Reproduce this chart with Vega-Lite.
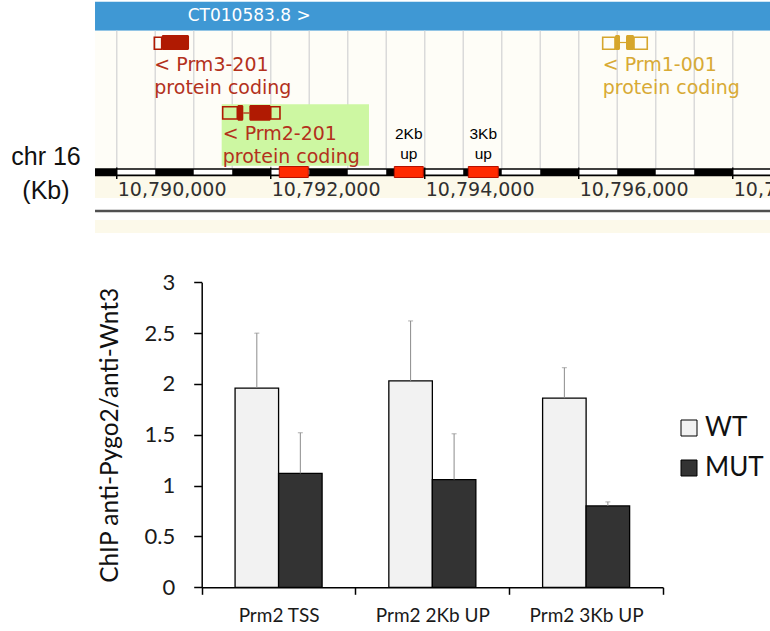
{
  "$schema": "https://vega.github.io/schema/vega-lite/v6.json",
  "width": 770,
  "height": 631,
  "autosize": {"type": "none"},
  "padding": 0,
  "background": "white",
  "config": {"view": {"stroke": null}},
  "datasets": {
    "panels": [
      {"part": "contig", "start": 10789718, "end": 10798484, "top": 0.17, "bottom": 3.07},
      {"part": "track", "start": 10789718, "end": 10798484, "top": 3.07, "bottom": 16.9},
      {"part": "label band", "start": 10789718, "end": 10798484, "top": 17.6, "bottom": 19.8},
      {"part": "lower band", "start": 10789718, "end": 10798484, "top": 22.0, "bottom": 23.3}
    ],
    "grid": [
      {"pos": 10790000}, {"pos": 10790500}, {"pos": 10791000}, {"pos": 10791500},
      {"pos": 10792000}, {"pos": 10792500}, {"pos": 10793000}, {"pos": 10793500},
      {"pos": 10794000}, {"pos": 10794500}, {"pos": 10795000}, {"pos": 10795500},
      {"pos": 10796000}, {"pos": 10796500}, {"pos": 10797000}, {"pos": 10797500},
      {"pos": 10798000}
    ],
    "highlight": [
      {"start": 10791363, "end": 10793276, "top": 10.43, "bottom": 16.57}
    ],
    "ruler": [
      {"start": 10789718, "end": 10798484, "top": 16.83, "bottom": 17.62}
    ],
    "rulerWhite": [
      {"start": 10790000, "end": 10790500}, {"start": 10791000, "end": 10791500},
      {"start": 10792000, "end": 10792500}, {"start": 10793000, "end": 10793500},
      {"start": 10794000, "end": 10794500}, {"start": 10795000, "end": 10795500},
      {"start": 10796000, "end": 10796500}, {"start": 10797000, "end": 10797500},
      {"start": 10798000, "end": 10798484}
    ],
    "major": [
      {"pos": 10790000, "label": "10,790,000"},
      {"pos": 10792000, "label": "10,792,000"},
      {"pos": 10794000, "label": "10,794,000"},
      {"pos": 10796000, "label": "10,796,000"},
      {"pos": 10798000, "label": "10,798,000"}
    ],
    "primers": [
      {"name": "TSS", "start": 10792111, "end": 10792488},
      {"name": "2Kb up", "start": 10793605, "end": 10793981},
      {"name": "3Kb up", "start": 10794566, "end": 10794955}
    ],
    "primerLabels": [
      {"pos": 10793793, "row": 13.4, "label": "2Kb"},
      {"pos": 10793793, "row": 15.35, "label": "up"},
      {"pos": 10794760, "row": 13.4, "label": "3Kb"},
      {"pos": 10794760, "row": 15.35, "label": "up"}
    ],
    "exons": [
      {"gene": "Prm3-201", "kind": "utr", "start": 10790488, "end": 10790584, "top": 3.72, "bottom": 4.93},
      {"gene": "Prm3-201", "kind": "cds", "start": 10790584, "end": 10790939, "top": 3.5, "bottom": 5.0},
      {"gene": "Prm2-201", "kind": "utr", "start": 10791376, "end": 10791566, "top": 10.67, "bottom": 11.9},
      {"gene": "Prm2-201", "kind": "cds", "start": 10791566, "end": 10791644, "top": 10.5, "bottom": 12.07},
      {"gene": "Prm2-201", "kind": "cds", "start": 10791722, "end": 10792000, "top": 10.5, "bottom": 12.07},
      {"gene": "Prm2-201", "kind": "utr", "start": 10792000, "end": 10792120, "top": 10.67, "bottom": 11.9},
      {"gene": "Prm1-001", "kind": "utr", "start": 10796311, "end": 10796471, "top": 3.72, "bottom": 4.93},
      {"gene": "Prm1-001", "kind": "cds", "start": 10796471, "end": 10796536, "top": 3.5, "bottom": 5.0},
      {"gene": "Prm1-001", "kind": "cds", "start": 10796614, "end": 10796718, "top": 3.5, "bottom": 5.0},
      {"gene": "Prm1-001", "kind": "utr", "start": 10796718, "end": 10796890, "top": 3.72, "bottom": 4.93}
    ],
    "introns": [
      {"gene": "Prm2-201", "start": 10791644, "end": 10791722, "row": 11.3},
      {"gene": "Prm1-001", "start": 10796536, "end": 10796614, "row": 4.25}
    ],
    "geneLabels": [
      {"gene": "Prm3-201", "pos": 10790488, "row": 6.5, "label": "< Prm3-201"},
      {"gene": "Prm3-201", "pos": 10790488, "row": 8.75, "label": "protein coding"},
      {"gene": "Prm2-201", "pos": 10791376, "row": 13.35, "label": "< Prm2-201"},
      {"gene": "Prm2-201", "pos": 10791376, "row": 15.65, "label": "protein coding"},
      {"gene": "Prm1-001", "pos": 10796311, "row": 6.5, "label": "< Prm1-001"},
      {"gene": "Prm1-001", "pos": 10796311, "row": 8.75, "label": "protein coding"}
    ],
    "contigLabel": [
      {"pos": 10790922, "row": 1.6, "label": "CT010583.8 >"}
    ],
    "sideLabels": [
      {"pos": 10789081, "row": 15.7, "label": "chr 16"},
      {"pos": 10789081, "row": 19.05, "label": "(Kb)"}
    ],
    "baseline": [
      {"start": 10789718, "end": 10798484, "row": 21.1}
    ],
    "chip": [
      {"site": "Prm2 TSS", "genotype": "WT", "value": 1.96, "upper": 2.5},
      {"site": "Prm2 TSS", "genotype": "MUT", "value": 1.12, "upper": 1.52},
      {"site": "Prm2 2Kb UP", "genotype": "WT", "value": 2.03, "upper": 2.62},
      {"site": "Prm2 2Kb UP", "genotype": "MUT", "value": 1.06, "upper": 1.51},
      {"site": "Prm2 3Kb UP", "genotype": "WT", "value": 1.86, "upper": 2.16},
      {"site": "Prm2 3Kb UP", "genotype": "MUT", "value": 0.8, "upper": 0.84}
    ]
  },
  "layer": [
    {
      "resolve": {"scale": {"color": "independent", "stroke": "independent"}},
      "layer": [
        {
          "data": {"name": "panels"},
          "mark": {"type": "rect"},
          "encoding": {
            "x": {"field": "start", "type": "quantitative", "scale": {"domain": [10788484, 10798484], "nice": false, "zero": false}, "axis": null},
            "x2": {"field": "end"},
            "y": {"field": "top", "type": "quantitative", "scale": {"domain": [0, 23.2], "range": [0, 232], "nice": false, "zero": false}, "axis": null},
            "y2": {"field": "bottom"},
            "color": {"field": "part", "type": "nominal", "legend": null,
              "scale": {"domain": ["contig", "track", "label band", "lower band"], "range": ["#3f98d4", "#fefdf7", "#fcf9ea", "#fcf9ea"]}}
          }
        },
        {
          "data": {"name": "grid"},
          "mark": {"type": "rule", "color": "#dadada", "strokeWidth": 1.5},
          "encoding": {
            "x": {"field": "pos", "type": "quantitative", "scale": {"domain": [10788484, 10798484], "nice": false, "zero": false}, "axis": null},
            "y": {"datum": 3.07, "type": "quantitative", "scale": {"domain": [0, 23.2], "range": [0, 232], "nice": false, "zero": false}, "axis": null},
            "y2": {"datum": 16.85}
          }
        },
        {
          "data": {"name": "highlight"},
          "mark": {"type": "rect", "color": "#cdf7a2"},
          "encoding": {
            "x": {"field": "start", "type": "quantitative", "scale": {"domain": [10788484, 10798484], "nice": false, "zero": false}, "axis": null},
            "x2": {"field": "end"},
            "y": {"field": "top", "type": "quantitative", "scale": {"domain": [0, 23.2], "range": [0, 232], "nice": false, "zero": false}, "axis": null},
            "y2": {"field": "bottom"}
          }
        },
        {
          "data": {"name": "ruler"},
          "mark": {"type": "rect", "color": "#000000"},
          "encoding": {
            "x": {"field": "start", "type": "quantitative", "scale": {"domain": [10788484, 10798484], "nice": false, "zero": false}, "axis": null},
            "x2": {"field": "end"},
            "y": {"field": "top", "type": "quantitative", "scale": {"domain": [0, 23.2], "range": [0, 232], "nice": false, "zero": false}, "axis": null},
            "y2": {"field": "bottom"}
          }
        },
        {
          "data": {"name": "rulerWhite"},
          "mark": {"type": "rect", "color": "#ffffff"},
          "encoding": {
            "x": {"field": "start", "type": "quantitative", "scale": {"domain": [10788484, 10798484], "nice": false, "zero": false}, "axis": null},
            "x2": {"field": "end"},
            "y": {"datum": 16.98, "type": "quantitative", "scale": {"domain": [0, 23.2], "range": [0, 232], "nice": false, "zero": false}, "axis": null},
            "y2": {"datum": 17.45}
          }
        },
        {
          "data": {"name": "major"},
          "mark": {"type": "rule", "color": "#000000", "strokeWidth": 1.5},
          "encoding": {
            "x": {"field": "pos", "type": "quantitative", "scale": {"domain": [10788484, 10798484], "nice": false, "zero": false}, "axis": null},
            "y": {"datum": 16.75, "type": "quantitative", "scale": {"domain": [0, 23.2], "range": [0, 232], "nice": false, "zero": false}, "axis": null},
            "y2": {"datum": 17.9}
          }
        },
        {
          "data": {"name": "major"},
          "mark": {"type": "text", "align": "left", "baseline": "middle", "dx": 1, "font": "DejaVu Sans", "fontSize": 19, "color": "#303030"},
          "encoding": {
            "x": {"field": "pos", "type": "quantitative", "scale": {"domain": [10788484, 10798484], "nice": false, "zero": false}, "axis": null},
            "y": {"datum": 19.0, "type": "quantitative", "scale": {"domain": [0, 23.2], "range": [0, 232], "nice": false, "zero": false}, "axis": null},
            "text": {"field": "label"}
          }
        },
        {
          "data": {"name": "primers"},
          "mark": {"type": "rect", "fill": "#ff2a00", "stroke": "#b51000", "strokeWidth": 1},
          "encoding": {
            "x": {"field": "start", "type": "quantitative", "scale": {"domain": [10788484, 10798484], "nice": false, "zero": false}, "axis": null},
            "x2": {"field": "end"},
            "y": {"datum": 16.65, "type": "quantitative", "scale": {"domain": [0, 23.2], "range": [0, 232], "nice": false, "zero": false}, "axis": null},
            "y2": {"datum": 17.75}
          }
        },
        {
          "data": {"name": "primerLabels"},
          "mark": {"type": "text", "align": "center", "baseline": "middle", "font": "Liberation Sans", "fontSize": 15.5, "color": "#000000"},
          "encoding": {
            "x": {"field": "pos", "type": "quantitative", "scale": {"domain": [10788484, 10798484], "nice": false, "zero": false}, "axis": null},
            "y": {"field": "row", "type": "quantitative", "scale": {"domain": [0, 23.2], "range": [0, 232], "nice": false, "zero": false}, "axis": null},
            "text": {"field": "label"}
          }
        },
        {
          "data": {"name": "introns"},
          "mark": {"type": "rule", "strokeWidth": 1.2},
          "encoding": {
            "x": {"field": "start", "type": "quantitative", "scale": {"domain": [10788484, 10798484], "nice": false, "zero": false}, "axis": null},
            "x2": {"field": "end"},
            "y": {"field": "row", "type": "quantitative", "scale": {"domain": [0, 23.2], "range": [0, 232], "nice": false, "zero": false}, "axis": null},
            "color": {"field": "gene", "type": "nominal", "legend": null,
              "scale": {"domain": ["Prm3-201", "Prm2-201", "Prm1-001"], "range": ["#b01a02", "#b01a02", "#d6a62c"]}}
          }
        },
        {
          "data": {"name": "exons"},
          "transform": [{"filter": "datum.kind === 'utr'"}],
          "mark": {"type": "rect", "fillOpacity": 0, "strokeWidth": 1.6},
          "encoding": {
            "x": {"field": "start", "type": "quantitative", "scale": {"domain": [10788484, 10798484], "nice": false, "zero": false}, "axis": null},
            "x2": {"field": "end"},
            "y": {"field": "top", "type": "quantitative", "scale": {"domain": [0, 23.2], "range": [0, 232], "nice": false, "zero": false}, "axis": null},
            "y2": {"field": "bottom"},
            "stroke": {"field": "gene", "type": "nominal", "legend": null,
              "scale": {"domain": ["Prm3-201", "Prm2-201", "Prm1-001"], "range": ["#b01a02", "#b01a02", "#d6a62c"]}}
          }
        },
        {
          "data": {"name": "exons"},
          "transform": [{"filter": "datum.kind === 'cds'"}],
          "mark": {"type": "rect", "cornerRadius": 1.5},
          "encoding": {
            "x": {"field": "start", "type": "quantitative", "scale": {"domain": [10788484, 10798484], "nice": false, "zero": false}, "axis": null},
            "x2": {"field": "end"},
            "y": {"field": "top", "type": "quantitative", "scale": {"domain": [0, 23.2], "range": [0, 232], "nice": false, "zero": false}, "axis": null},
            "y2": {"field": "bottom"},
            "color": {"field": "gene", "type": "nominal", "legend": null,
              "scale": {"domain": ["Prm3-201", "Prm2-201", "Prm1-001"], "range": ["#b01a02", "#b01a02", "#d6a62c"]}}
          }
        },
        {
          "data": {"name": "geneLabels"},
          "mark": {"type": "text", "align": "left", "baseline": "middle", "font": "DejaVu Sans", "fontSize": 19},
          "encoding": {
            "x": {"field": "pos", "type": "quantitative", "scale": {"domain": [10788484, 10798484], "nice": false, "zero": false}, "axis": null},
            "y": {"field": "row", "type": "quantitative", "scale": {"domain": [0, 23.2], "range": [0, 232], "nice": false, "zero": false}, "axis": null},
            "text": {"field": "label"},
            "color": {"field": "gene", "type": "nominal", "legend": null,
              "scale": {"domain": ["Prm3-201", "Prm2-201", "Prm1-001"], "range": ["#b3311c", "#b3311c", "#d8aa35"]}}
          }
        },
        {
          "data": {"name": "contigLabel"},
          "mark": {"type": "text", "align": "left", "baseline": "middle", "font": "DejaVu Sans", "fontSize": 17, "color": "#ffffff"},
          "encoding": {
            "x": {"field": "pos", "type": "quantitative", "scale": {"domain": [10788484, 10798484], "nice": false, "zero": false}, "axis": null},
            "y": {"field": "row", "type": "quantitative", "scale": {"domain": [0, 23.2], "range": [0, 232], "nice": false, "zero": false}, "axis": null},
            "text": {"field": "label"}
          }
        },
        {
          "data": {"name": "sideLabels"},
          "mark": {"type": "text", "align": "center", "baseline": "middle", "font": "Liberation Sans", "fontSize": 25, "color": "#111111"},
          "encoding": {
            "x": {"field": "pos", "type": "quantitative", "scale": {"domain": [10788484, 10798484], "nice": false, "zero": false}, "axis": null},
            "y": {"field": "row", "type": "quantitative", "scale": {"domain": [0, 23.2], "range": [0, 232], "nice": false, "zero": false}, "axis": null},
            "text": {"field": "label"}
          }
        },
        {
          "data": {"name": "baseline"},
          "mark": {"type": "rule", "color": "#505050", "strokeWidth": 2.5},
          "encoding": {
            "x": {"field": "start", "type": "quantitative", "scale": {"domain": [10788484, 10798484], "nice": false, "zero": false}, "axis": null},
            "x2": {"field": "end"},
            "y": {"field": "row", "type": "quantitative", "scale": {"domain": [0, 23.2], "range": [0, 232], "nice": false, "zero": false}, "axis": null}
          }
        }
      ]
    },
    {
      "data": {"name": "chip"},
      "layer": [
        {
          "mark": {"type": "bar", "stroke": "#000000", "strokeWidth": 1.3},
          "encoding": {
            "x": {"field": "site", "type": "nominal", "sort": ["Prm2 TSS", "Prm2 2Kb UP", "Prm2 3Kb UP"],
              "scale": {"range": [201.7, 663], "paddingInner": 0, "paddingOuter": 0},
              "axis": {"orient": "bottom", "offset": -43.7, "title": null, "tickBand": "extent", "tickSize": 7, "tickWidth": 1.5, "tickColor": "#000000",
                "domainColor": "#000000", "domainWidth": 1.5, "labelAngle": 0, "labelFont": "Lato", "labelFontSize": 19, "labelColor": "#1a1a1a", "labelPadding": 12, "grid": false}},
            "xOffset": {"field": "genotype", "type": "nominal", "sort": ["WT", "MUT"], "scale": {"paddingInner": 0, "paddingOuter": 0.767}},
            "y": {"field": "value", "type": "quantitative",
              "scale": {"domain": [0, 3], "range": [587.3, 282.3], "nice": false, "zero": true},
              "axis": {"orient": "left", "offset": -201.7, "values": [0, 0.5, 1, 1.5, 2, 2.5, 3], "format": "~g", "grid": false,
                "tickSize": 8, "tickWidth": 1.5, "tickColor": "#000000", "domainColor": "#000000", "domainWidth": 1.5,
                "labelFont": "Lato", "labelFontSize": 22, "labelColor": "#1a1a1a", "labelPadding": 19,
                "title": "ChIP anti-Pygo2/anti-Wnt3", "titleFont": "Lato", "titleFontSize": 24.5, "titleFontWeight": "normal", "titleColor": "#111111",
                "titleX": -91.7, "titleBaseline": "middle"}},
            "color": {"field": "genotype", "type": "nominal", "sort": ["WT", "MUT"],
              "scale": {"domain": ["WT", "MUT"], "range": ["#f2f2f2", "#333333"]},
              "legend": {"orient": "none", "legendX": 676, "legendY": 415, "title": null, "symbolType": "square", "symbolSize": 256,
                "symbolStrokeColor": "#000000", "symbolStrokeWidth": 1, "labelFont": "Lato", "labelFontSize": 26, "labelColor": "#111111",
                "labelOffset": 3, "rowPadding": 14, "padding": 0}}
          }
        },
        {
          "mark": {"type": "rule", "color": "#8c8c8c", "strokeWidth": 1},
          "encoding": {
            "x": {"field": "site", "type": "nominal", "sort": ["Prm2 TSS", "Prm2 2Kb UP", "Prm2 3Kb UP"]},
            "xOffset": {"field": "genotype", "type": "nominal", "sort": ["WT", "MUT"]},
            "y": {"field": "value", "type": "quantitative"},
            "y2": {"field": "upper"}
          }
        },
        {
          "mark": {"type": "tick", "color": "#8c8c8c", "size": 5, "thickness": 1},
          "encoding": {
            "x": {"field": "site", "type": "nominal", "sort": ["Prm2 TSS", "Prm2 2Kb UP", "Prm2 3Kb UP"]},
            "xOffset": {"field": "genotype", "type": "nominal", "sort": ["WT", "MUT"]},
            "y": {"field": "upper", "type": "quantitative"}
          }
        }
      ]
    }
  ],
  "resolve": {"scale": {"x": "independent", "y": "independent", "color": "independent"}}
}
